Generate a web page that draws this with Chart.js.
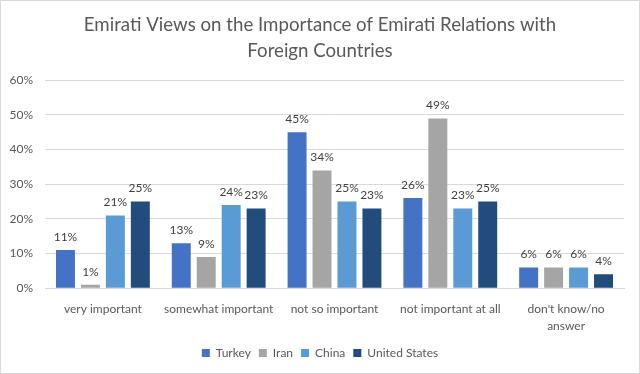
<!DOCTYPE html>
<html><head><meta charset="utf-8">
<script src="https://cdn.jsdelivr.net/npm/chart.js@4/dist/chart.umd.min.js"></script>
<style>
html,body{margin:0;padding:0;background:#fff;}
#wrap{position:absolute;left:0;top:0;width:638px;height:372px;border:1px solid #d9d9d9;}
canvas{display:block;}
</style></head><body>
<div id="wrap"><canvas id="c" width="638" height="372"></canvas></div>
<script>
const categories = ["very important", "somewhat important", "not so important", "not important at all", ["don't know/no", "answer"]];
const turkey = [11, 13, 45, 26, 6];
const iran = [1, 9, 34, 49, 6];
const china = [21, 24, 25, 23, 6];
const unitedStates = [25, 23, 23, 25, 4];
const seriesNames = ["Turkey", "Iran", "China", "United States"];
const yTicks = [0, 10, 20, 30, 40, 50, 60];

const colors = ["#4472C4", "#A5A5A5", "#5B9BD5", "#214C7B"];
const FONT = "Lato, 'Open Sans', sans-serif";

const labelPlugin = {
  id: 'vals',
  afterDatasetsDraw(chart) {
    const ctx = chart.ctx;
    ctx.save();
    ctx.font = "12px " + FONT;
    ctx.fillStyle = "#404040";
    ctx.textAlign = "center";
    ctx.textBaseline = "middle";
    chart.data.datasets.forEach((ds, i) => {
      chart.getDatasetMeta(i).data.forEach((bar, j) => {
        ctx.fillText(ds.data[j] + "%", bar.x, bar.y - 13);
      });
    });
    ctx.restore();
  }
};

new Chart(document.getElementById('c'), {
  type: 'bar',
  data: {
    labels: categories,
    datasets: [turkey, iran, china, unitedStates].map((d, i) => ({
      label: seriesNames[i], data: d, backgroundColor: colors[i],
      categoryPercentage: 0.862, barPercentage: 0.76
    }))
  },
  options: {
    responsive: false,
    animation: false,
    layout: { padding: { left: 0, right: 0, top: 0, bottom: 6 } },
    plugins: {
      title: {
        display: true,
        text: ["Emirati Views on the Importance of Emirati Relations with", "Foreign Countries"],
        font: { family: FONT, size: 18.67, weight: 'normal', lineHeight: 1.4 },
        color: "#595959",
        padding: { top: 11, bottom: 16 }
      },
      legend: {
        position: 'bottom',
        maxHeight: 28,
        labels: { font: { family: FONT, size: 12 }, color: "#595959", boxWidth: 8, boxHeight: 8, padding: 8 }
      },
      tooltip: { enabled: false }
    },
    scales: {
      x: {
        grid: { display: false },
        border: { color: "#d9d9d9" },
        ticks: { font: { family: FONT, size: 12, lineHeight: 1.45 }, color: "#595959", maxRotation: 0, autoSkip: false, padding: 4 }
      },
      y: {
        min: 0, max: 60,
        afterBuildTicks(axis) { axis.ticks = yTicks.map(v => ({ value: v })); },
        afterFit(axis) { axis.width = 44; },
        grid: { color: "#d9d9d9", drawTicks: false },
        border: { display: false },
        ticks: { font: { family: FONT, size: 12 }, color: "#595959", padding: 12, callback: v => v + "%" }
      },
      yRight: {
        position: 'right',
        display: true,
        grid: { display: false },
        border: { display: false },
        ticks: { display: false },
        afterFit(axis) { axis.width = 15; }
      }
    }
  },
  plugins: [labelPlugin]
});
</script>
</body></html>
